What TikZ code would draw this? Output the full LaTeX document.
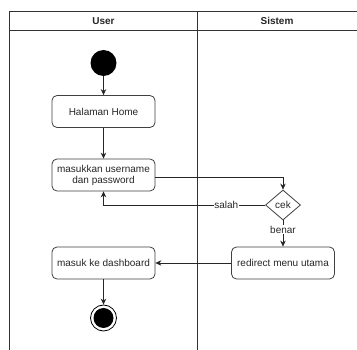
\documentclass[tikz,border=0pt]{standalone}
\usepackage{fontspec}
\setmainfont{Liberation Sans}
\usetikzlibrary{arrows.meta,shapes.geometric}
\begin{document}
\begin{tikzpicture}[x=1pt,y=-1pt,
  lane/.style={draw=black!80,line width=0.9pt},
  act/.style={draw=black!75,line width=0.8pt,rounded corners=5pt,minimum width=103pt,minimum height=32pt,align=center,font=\fontsize{10}{12}\selectfont,text=black!85,inner sep=1pt},
  flow/.style={draw=black!85,line width=0.8pt,-{Stealth[length=6pt,width=5.5pt]}},
  lbl/.style={font=\fontsize{10}{12}\selectfont,text=black!85,fill=white,inner sep=0.5pt},
  hdr/.style={font=\bfseries\fontsize{10}{12}\selectfont,text=black!85}]
\useasboundingbox (0,0) rectangle (357,350);
\fill[white] (0,0) rectangle (357,350);
% swimlanes
\draw[lane] (9.5,350) -- (9.5,11.5) -- (357,11.5);
\draw[lane] (9.5,30) -- (357,30);
\draw[lane] (197.5,11.5) -- (197.5,350);
\node[hdr] (hu) at (103.5,21) {User};
\node[hdr] (hs) at (277,21) {Sistem};
% activities
\node[circle,fill=black,minimum size=26pt,inner sep=0pt] (start) at (103.5,63) {};
\node[act] (home) at (103.5,111.5) {Halaman Home};
\node[act] (login) at (103.5,175) {masukkan username\\[-1pt]dan password};
\node[diamond,draw=black!75,line width=0.8pt,minimum width=35pt,minimum height=30pt,inner sep=0pt,font=\fontsize{10}{12}\selectfont,text=black!85,aspect=1.17] (cek) at (283,205) {cek};
\node[act] (redir) at (283,263) {redirect menu utama};
\node[act] (dash) at (103.5,263) {masuk ke dashboard};
\node[circle,draw=black,line width=0.8pt,minimum size=26pt,inner sep=0pt] (end) at (103.5,318) {};
\node[circle,fill=black,minimum size=20pt,inner sep=0pt] (endin) at (end) {};
% flows
\draw[flow] (start) -- (home);
\draw[flow] (home) -- (login);
\draw[flow] (login.east |- 0,177) -| (cek.north);
\draw[flow] (cek.west) -| node[lbl,pos=0.12] {salah} (login.south);
\draw[flow] (cek.south) -- node[lbl,pos=0.35] {benar} (redir.north);
\draw[flow] (redir.west) -- (dash.east);
\draw[flow] (dash) -- (end);
\end{tikzpicture}
\end{document}
